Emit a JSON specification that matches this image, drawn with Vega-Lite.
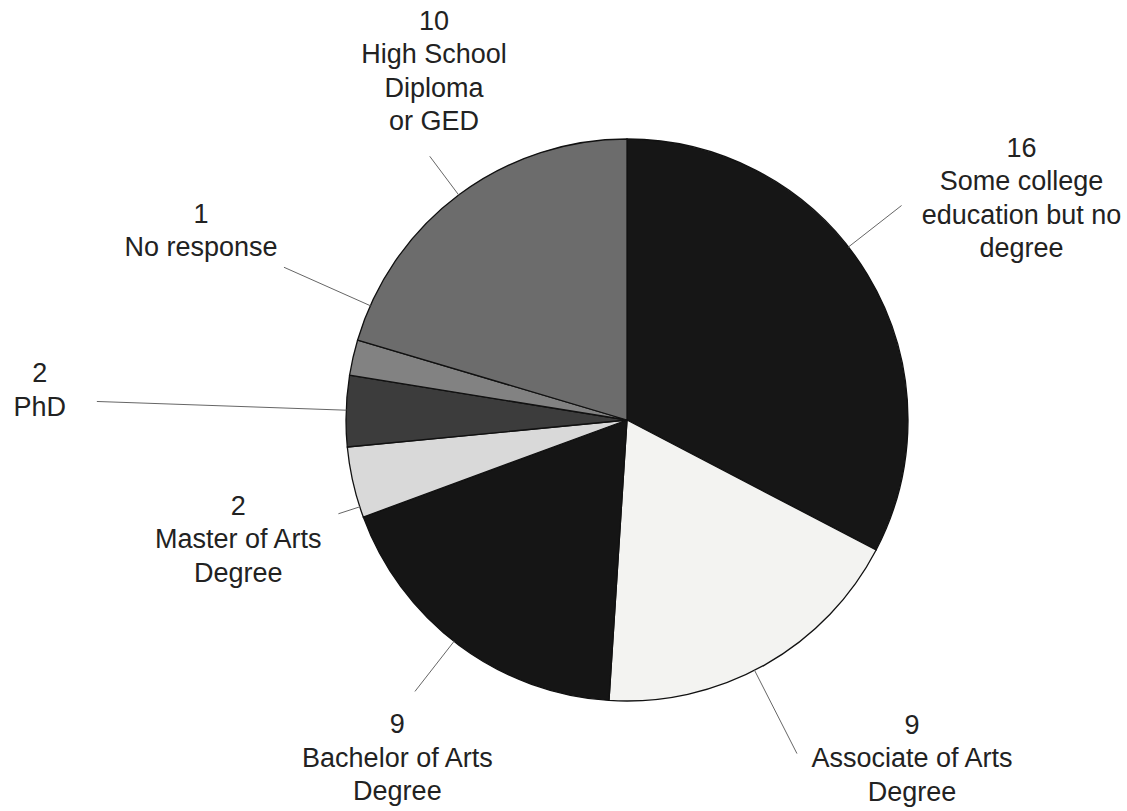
{
  "$schema": "https://vega.github.io/schema/vega-lite/v6.json",
  "width": 500,
  "height": 500,
  "autosize": "none",
  "padding": {"left": 377, "top": 170, "right": 250, "bottom": 141},
  "background": "white",
  "config": {"view": {"stroke": null}},
  "data": {
    "values": [
      {"cat": "Some college education but no degree", "n": 16, "o": 1, "label": "16\nSome college\neducation but no\ndegree"},
      {"cat": "Associate of Arts Degree", "n": 9, "o": 2, "label": "9\nAssociate of Arts\nDegree"},
      {"cat": "Bachelor of Arts Degree", "n": 9, "o": 3, "label": "9\nBachelor of Arts\nDegree"},
      {"cat": "Master of Arts Degree", "n": 2, "o": 4, "label": "2\nMaster of Arts\nDegree"},
      {"cat": "PhD", "n": 2, "o": 5, "label": "2\nPhD"},
      {"cat": "No response", "n": 1, "o": 6, "label": "1\nNo response"},
      {"cat": "High School Diploma or GED", "n": 10, "o": 7, "label": "10\nHigh School\nDiploma\nor GED"}
    ]
  },
  "encoding": {
    "theta": {"field": "n", "type": "quantitative", "stack": true},
    "order": {"field": "o", "type": "quantitative"},
    "detail": {"field": "cat", "type": "nominal"}
  },
  "layer": [
    {
      "mark": {"type": "arc", "outerRadius": 281, "stroke": "#111111", "strokeWidth": 1.3},
      "encoding": {
        "color": {
          "field": "cat", "type": "nominal", "legend": null,
          "scale": {
            "domain": ["Some college education but no degree", "Associate of Arts Degree", "Bachelor of Arts Degree", "Master of Arts Degree", "PhD", "No response", "High School Diploma or GED"],
            "range": ["#161616", "#f3f3f1", "#151515", "#d9d9d9", "#3c3c3c", "#828282", "#6c6c6c"]
          }
        }
      }
    },
    {"mark": {"type": "arc", "radius": 349, "radius2": 281, "thetaOffset": 0.9076, "fillOpacity": 0, "stroke": "#666666", "strokeWidth": 1, "strokeDash": [0, 716.5, 68, 5000]},
     "encoding": {"strokeOpacity": {"condition": {"test": "datum.o === 1", "value": 1}, "value": 0}}},
    {"mark": {"type": "arc", "radius": 375, "radius2": 281, "thetaOffset": 0.6187, "fillOpacity": 0, "stroke": "#666666", "strokeWidth": 1, "strokeDash": [0, 433.3, 94, 5000]},
     "encoding": {"strokeOpacity": {"condition": {"test": "datum.o === 2", "value": 1}, "value": 0}}},
    {"mark": {"type": "arc", "radius": 345, "radius2": 281, "thetaOffset": 0.59912, "fillOpacity": 0, "stroke": "#666666", "strokeWidth": 1, "strokeDash": [0, 398.6, 64, 5000]},
     "encoding": {"strokeOpacity": {"condition": {"test": "datum.o === 3", "value": 1}, "value": 0}}},
    {"mark": {"type": "arc", "radius": 304, "radius2": 281, "thetaOffset": 0.03848, "fillOpacity": 0, "stroke": "#666666", "strokeWidth": 1, "strokeDash": [0, 78.5, 23, 5000]},
     "encoding": {"strokeOpacity": {"condition": {"test": "datum.o === 4", "value": 1}, "value": 0}}},
    {"mark": {"type": "arc", "radius": 531, "radius2": 281, "thetaOffset": 0.13109, "fillOpacity": 0, "stroke": "#666666", "strokeWidth": 1, "strokeDash": [0, 136.7, 250, 5000]},
     "encoding": {"strokeOpacity": {"condition": {"test": "datum.o === 5", "value": 1}, "value": 0}}},
    {"mark": {"type": "arc", "radius": 376, "radius2": 281, "thetaOffset": 0.25861, "fillOpacity": 0, "stroke": "#666666", "strokeWidth": 1, "strokeDash": [0, 48.7, 95, 5000]},
     "encoding": {"strokeOpacity": {"condition": {"test": "datum.o === 6", "value": 1}, "value": 0}}},
    {"mark": {"type": "arc", "radius": 330, "radius2": 281, "thetaOffset": 0.64008, "fillOpacity": 0, "stroke": "#666666", "strokeWidth": 1, "strokeDash": [0, 423.7, 49, 5000]},
     "encoding": {"strokeOpacity": {"condition": {"test": "datum.o === 7", "value": 1}, "value": 0}}},
    {"mark": {"type": "text", "radius": 452, "dx": 8, "dy": -37, "align": "center", "baseline": "middle", "lineBreak": "\n", "lineHeight": 33.5, "fontSize": 27, "font": "Liberation Sans", "fill": "#222222"},
     "encoding": {"text": {"condition": {"test": "datum.o === 1", "field": "label", "type": "nominal"}, "value": ""}}},
    {"mark": {"type": "text", "radius": 435, "dx": 71.5, "dy": -73.5, "align": "center", "baseline": "middle", "lineBreak": "\n", "lineHeight": 33.5, "fontSize": 27, "font": "Liberation Sans", "fill": "#222222"},
     "encoding": {"text": {"condition": {"test": "datum.o === 2", "field": "label", "type": "nominal"}, "value": ""}}},
    {"mark": {"type": "text", "radius": 409, "dx": 15, "dy": -22.5, "align": "center", "baseline": "middle", "lineBreak": "\n", "lineHeight": 33.5, "fontSize": 27, "font": "Liberation Sans", "fill": "#222222"},
     "encoding": {"text": {"condition": {"test": "datum.o === 3", "field": "label", "type": "nominal"}, "value": ""}}},
    {"mark": {"type": "text", "radius": 406, "dx": 7, "dy": -3.5, "align": "center", "baseline": "middle", "lineBreak": "\n", "lineHeight": 33.5, "fontSize": 27, "font": "Liberation Sans", "fill": "#222222"},
     "encoding": {"text": {"condition": {"test": "datum.o === 4", "field": "label", "type": "nominal"}, "value": ""}}},
    {"mark": {"type": "text", "radius": 587.6, "dx": 0, "dy": -26.75, "align": "center", "baseline": "middle", "lineBreak": "\n", "lineHeight": 33.5, "fontSize": 27, "font": "Liberation Sans", "fill": "#222222"},
     "encoding": {"text": {"condition": {"test": "datum.o === 5", "field": "label", "type": "nominal"}, "value": ""}}},
    {"mark": {"type": "text", "radius": 457, "dx": 19.5, "dy": -103.75, "align": "center", "baseline": "middle", "lineBreak": "\n", "lineHeight": 33.5, "fontSize": 27, "font": "Liberation Sans", "fill": "#222222"},
     "encoding": {"text": {"condition": {"test": "datum.o === 6", "field": "label", "type": "nominal"}, "value": ""}}},
    {"mark": {"type": "text", "radius": 394, "dx": 42.6, "dy": -82.25, "align": "center", "baseline": "middle", "lineBreak": "\n", "lineHeight": 33.5, "fontSize": 27, "font": "Liberation Sans", "fill": "#222222"},
     "encoding": {"text": {"condition": {"test": "datum.o === 7", "field": "label", "type": "nominal"}, "value": ""}}}
  ]
}
